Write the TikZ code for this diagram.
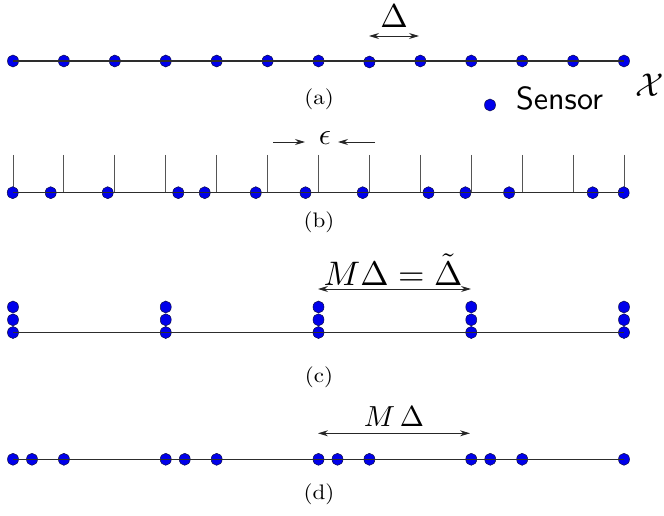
\documentclass[tikz,border=0pt]{standalone}
\usepackage{graphicx}
\usetikzlibrary{arrows.meta,shapes.geometric}
\definecolor{dotblue}{RGB}{0,0,235}
\definecolor{dotedge}{RGB}{10,10,70}
\definecolor{axisgray}{RGB}{45,45,45}
\definecolor{tickgray}{RGB}{85,85,85}
\tikzset{
  sensor/.style={ellipse, minimum width=11pt, minimum height=12pt, inner sep=0pt,
                 fill=dotblue, draw=dotedge, line width=0.5pt},
  axis/.style={draw=axisgray, line width=1.5pt},
  tickline/.style={draw=tickgray, line width=1pt},
  dimarrow/.style={draw=black!85, line width=0.9pt, {Stealth[length=10pt,width=6pt]}-{Stealth[length=10pt,width=6pt]}},
  onearrow/.style={draw=black!85, line width=0.9pt, -{Stealth[length=10pt,width=6pt]}},
  sublabel/.style={inner sep=0pt},
  mathlabel/.style={inner sep=0pt, anchor=base},
}
\newcommand{\sublab}[1]{\scalebox{2.3}[2.1]{#1}}
\begin{document}
\begin{tikzpicture}[x=1pt,y=-1pt]
\useasboundingbox (0,0) rectangle (664,516);

% ---------- (a) ----------
\foreach \k in {0,...,12} {
  \pgfmathsetmacro{\xx}{13+50.917*\k}
  \ifnum\k=7
    \node[sensor] (a\k) at (\xx,62) {};
  \else
    \node[sensor] (a\k) at (\xx,61) {};
  \fi
}
\draw[axis] (a0.center) -- (a12.center);
\node[mathlabel] (delta) at (394,28) {\scalebox{3.3}{$\Delta$}};
\coordinate (da) at (369,36);
\coordinate (db) at (419,36);
\draw[dimarrow] (da) -- (db);
\node[sublabel] (laba) at (319,99) {\sublab{(a)}};
\node[mathlabel] (calx) at (650,97) {\scalebox{3.3}{$\mathcal{X}$}};
\node[sensor] (legdot) at (490,105) {};
\node[inner sep=0pt, anchor=base west] (legtext) at (516,110) {\scalebox{3.2}{\sffamily Sensor}};

% ---------- (b) ----------
\foreach \k in {0,...,12} {
  \pgfmathsetmacro{\xx}{13+50.917*\k}
  \coordinate (tt\k) at (\xx,155);
  \coordinate (tb\k) at (\xx,192.7);
  \draw[tickline] (tt\k) -- (tb\k);
}
\foreach \xx [count=\i] in {12.7,50.7,107.7,178.3,204.7,255.8,305.5,362.7,428.5,465.4,509.1,592.7,623.7} {
  \node[sensor] (b\i) at (\xx,192.7) {};
}
\draw[axis] (b1.center) -- (b13.center);
\node[mathlabel] (eps) at (325,145) {\scalebox{3.0}{$\epsilon$}};
\coordinate (ela) at (273,142);
\coordinate (elb) at (305,142);
\coordinate (era) at (375,142);
\coordinate (erb) at (338,142);
\draw[onearrow] (ela) -- (elb);
\draw[onearrow] (era) -- (erb);
\node[sublabel] (labb) at (319,222) {\sublab{(b)}};

% ---------- (c) ----------
\foreach \j in {0,...,4} {
  \pgfmathsetmacro{\xx}{13+152.75*\j}
  \node[sensor] (c\j-3) at (\xx,307) {};
  \node[sensor] (c\j-2) at (\xx,319.8) {};
  \node[sensor] (c\j-1) at (\xx,332.5) {};
}
\draw[axis] (c0-1.center) -- (c4-1.center);
\coordinate (ca) at (318,289);
\coordinate (cb) at (471,289);
\draw[dimarrow] (ca) -- (cb);
\node[mathlabel] (mdt) at (393,285) {\scalebox{3.4}{$M\Delta=\tilde{\Delta}$}};
\node[sublabel] (labc) at (319,377) {\sublab{(c)}};

% ---------- (d) ----------
\foreach \j in {0,...,3} {
  \pgfmathsetmacro{\xa}{13+152.75*\j}
  \pgfmathsetmacro{\xb}{32+152.75*\j}
  \pgfmathsetmacro{\xc}{63.9+152.75*\j}
  \node[sensor] (d\j-1) at (\xa,459.3) {};
  \node[sensor] (d\j-2) at (\xb,459.3) {};
  \node[sensor] (d\j-3) at (\xc,459.3) {};
}
\node[sensor] (dlast) at (624,459.3) {};
\draw[axis] (d0-1.center) -- (dlast.center);
\coordinate (dda) at (318,433.3);
\coordinate (ddb) at (470,433.3);
\draw[dimarrow] (dda) -- (ddb);
\node[mathlabel] (md) at (394,426) {\scalebox{2.9}{$M\,\Delta$}};
\node[sublabel] (labd) at (319,494) {\sublab{(d)}};
\end{tikzpicture}
\end{document}
